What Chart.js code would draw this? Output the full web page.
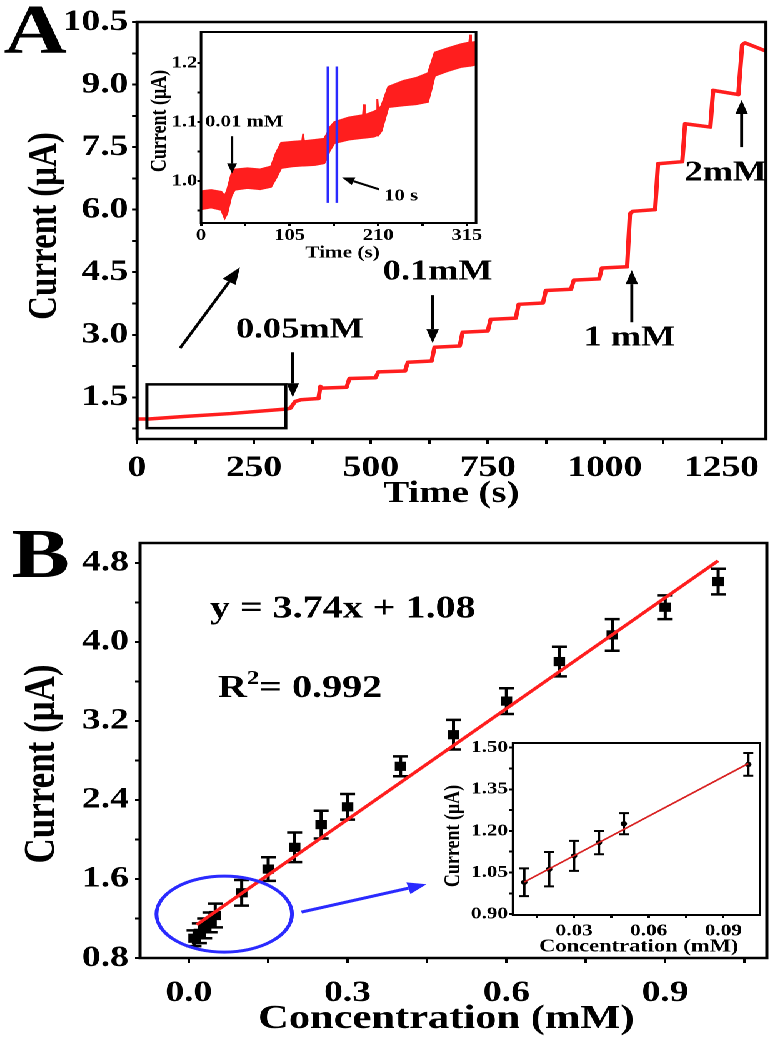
<!DOCTYPE html>
<html>
<head>
<meta charset="utf-8">
<script src="https://cdn.jsdelivr.net/npm/chart.js@4.4.1/dist/chart.umd.min.js"></script>
<style>
  html, body { margin: 0; padding: 0; background: #fff; overflow: hidden; }
  /* the original figure is stretched sideways, so draw narrow and widen */
  #stage { position: relative; width: 620px; height: 1045px; transform: scaleX(1.25); transform-origin: 0 0; }
  #stage canvas { position: absolute; left: 0; }
</style>
</head>
<body>
<div id="stage">
  <canvas id="mainA" width="620" height="520" style="top:0"></canvas>
  <canvas id="insetA" width="620" height="520" style="top:0"></canvas>
  <canvas id="mainB" width="620" height="525" style="top:520px"></canvas>
  <canvas id="insetB" width="620" height="525" style="top:520px"></canvas>
</div>
<script>
// A: current vs time, whole run
var aTime = [0, 25, 100, 200, 320, 328, 338, 350, 388, 392, 396, 448, 454, 510, 516, 573, 579, 630, 636, 690, 696, 750, 756, 810, 816, 868, 874, 928, 934, 988, 994, 1048, 1054, 1060, 1108, 1114, 1166, 1172, 1226, 1232, 1286, 1294, 1300, 1350];
var aCurrent = [0.98, 0.98, 1.04, 1.11, 1.22, 1.24, 1.40, 1.44, 1.47, 1.76, 1.72, 1.74, 1.95, 1.97, 2.11, 2.13, 2.34, 2.37, 2.70, 2.73, 3.06, 3.09, 3.37, 3.40, 3.73, 3.76, 4.06, 4.09, 4.31, 4.34, 4.60, 4.63, 5.90, 5.96, 6.00, 7.10, 7.15, 8.06, 7.98, 8.86, 8.76, 9.95, 10.00, 9.78];
var aTimeTicks = [0, 250, 500, 750, 1000, 1250];
var aCurrentTicks = [1.5, 3.0, 4.5, 6.0, 7.5, 9.0, 10.5];

// A inset: first 0.01 mM additions (noisy band, upper and lower edge)
var insetTime = [0, 12, 24, 28, 31, 36, 40, 55, 70, 83, 89, 95, 110, 120, 121, 122, 135, 146, 150, 151, 152, 158, 175, 192, 193, 194, 205, 208, 209, 210, 214, 222, 240, 255, 269, 273, 277, 292, 308, 318, 319, 320, 326];
var insetUpper = [0.983, 0.985, 0.982, 0.975, 0.985, 1.012, 1.02, 1.022, 1.02, 1.025, 1.048, 1.065, 1.067, 1.068, 1.08, 1.068, 1.07, 1.072, 1.082, 1.085, 1.09, 1.1, 1.108, 1.112, 1.13, 1.112, 1.118, 1.12, 1.139, 1.12, 1.128, 1.16, 1.17, 1.175, 1.183, 1.2, 1.218, 1.225, 1.232, 1.235, 1.248, 1.235, 1.236];
var insetLower = [0.952, 0.955, 0.951, 0.937, 0.945, 0.975, 0.985, 0.988, 0.986, 0.99, 1.005, 1.022, 1.025, 1.026, 1.026, 1.026, 1.027, 1.03, 1.04, 1.045, 1.05, 1.064, 1.07, 1.073, 1.073, 1.073, 1.075, 1.077, 1.077, 1.077, 1.085, 1.125, 1.128, 1.13, 1.134, 1.155, 1.178, 1.186, 1.193, 1.195, 1.195, 1.195, 1.197];
var insetTimeTicks = [0, 105, 210, 315];
var insetCurrentTicks = [1.0, 1.1, 1.2];

// B: calibration
var bConc = [0.01, 0.02, 0.03, 0.04, 0.05, 0.1, 0.15, 0.2, 0.25, 0.3, 0.4, 0.5, 0.6, 0.7, 0.8, 0.9, 1.0];
var bCurrent = [1.0, 1.05, 1.1, 1.16, 1.23, 1.46, 1.70, 1.92, 2.15, 2.33, 2.74, 3.06, 3.40, 3.80, 4.07, 4.35, 4.61];
var bError = [0.08, 0.1, 0.1, 0.1, 0.12, 0.13, 0.12, 0.15, 0.14, 0.13, 0.1, 0.15, 0.13, 0.15, 0.16, 0.12, 0.13];
var bFitConc = [0.015, 1.0];
var bFitCurrent = [1.136, 4.82];
var bConcTicks = [0.0, 0.3, 0.6, 0.9];
var bCurrentTicks = [0.8, 1.6, 2.4, 3.2, 4.0, 4.8];

// B inset: low range
var smallConc = [0.01, 0.02, 0.03, 0.04, 0.05, 0.1];
var smallCurrent = [1.015, 1.062, 1.11, 1.158, 1.226, 1.44];
var smallError = [0.05, 0.062, 0.054, 0.042, 0.038, 0.041];
var smallFitConc = [0.01, 0.1];
var smallFitCurrent = [1.016, 1.443];
var smallConcTicks = [0.03, 0.06, 0.09];
var smallCurrentTicks = [0.90, 1.05, 1.20, 1.35, 1.50];

var FONT = '"Liberation Serif", "Times New Roman", Times, serif';
var RED = "#ff1e1e";
var BLUE = "#2a2aff";
var W = 620;

function pairs(xs, ys) {
  return xs.map(function (x, i) { return { x: x, y: ys[i] }; });
}

function minorTicks(majors, min, max) {
  var step = majors[1] - majors[0];
  var eps = (max - min) * 0.02;
  var out = [];
  for (var v = majors[0] - step / 2; v < max; v += step) {
    if (v > min + eps && v < max - eps) out.push(v);
  }
  return out;
}

function axis(position, min, max, majors, digits, size, pad, tickLen) {
  var all = majors.concat(minorTicks(majors, min, max)).sort(function (a, b) { return a - b; });
  return {
    type: "linear",
    position: position,
    min: min,
    max: max,
    afterBuildTicks: function (s) {
      s.ticks = all.map(function (v) { return { value: v }; });
    },
    border: { display: false },
    grid: { drawOnChartArea: false, drawTicks: true, tickLength: tickLen, tickWidth: 2, tickColor: "#000", color: "#000" },
    ticks: {
      autoSkip: false,
      maxRotation: 0,
      padding: pad,
      color: "#000",
      font: { family: FONT, size: size, weight: "bold" },
      callback: function (v) {
        for (var i = 0; i < majors.length; i++) {
          if (Math.abs(majors[i] - v) < 1e-9) return v.toFixed(digits);
        }
        return "";
      },
    },
  };
}

function label(ctx, str, x, y, size, align) {
  ctx.font = "bold " + size + "px " + FONT;
  ctx.fillStyle = "#000";
  ctx.textAlign = align || "center";
  ctx.textBaseline = "middle";
  ctx.fillText(str, x, y);
}

function vlabel(ctx, str, x, y, size) {
  ctx.save();
  ctx.translate(x, y);
  ctx.rotate(-Math.PI / 2);
  label(ctx, str, 0, 0, size);
  ctx.restore();
}

function arrow(ctx, x1, y1, x2, y2, color, lw, head, halfW) {
  var ang = Math.atan2(y2 - y1, x2 - x1);
  var bx = x2 - head * Math.cos(ang);
  var by = y2 - head * Math.sin(ang);
  ctx.save();
  ctx.strokeStyle = color;
  ctx.fillStyle = color;
  ctx.lineWidth = lw;
  ctx.beginPath();
  ctx.moveTo(x1, y1);
  ctx.lineTo(bx, by);
  ctx.stroke();
  ctx.beginPath();
  ctx.moveTo(x2, y2);
  ctx.lineTo(bx + halfW * Math.sin(ang), by - halfW * Math.cos(ang));
  ctx.lineTo(bx - halfW * Math.sin(ang), by + halfW * Math.cos(ang));
  ctx.closePath();
  ctx.fill();
  ctx.restore();
}

function decor(draw, white, frameWidth) {
  return {
    id: "decor",
    beforeDraw: function (chart) {
      if (!white) return;
      var a = chart.chartArea, ctx = chart.ctx;
      ctx.save();
      ctx.fillStyle = "#fff";
      ctx.fillRect(a.left, a.top, a.right - a.left, a.bottom - a.top);
      ctx.restore();
    },
    beforeDatasetsDraw: function (chart) {
      var ctx = chart.ctx, xs = chart.scales.x, ys = chart.scales.y;
      chart.data.datasets.forEach(function (ds) {
        if (!ds.errors) return;
        ctx.save();
        ctx.strokeStyle = "#000";
        ctx.lineWidth = ds.errorWidth;
        var c = ds.capHalf;
        ds.data.forEach(function (p, j) {
          var x = xs.getPixelForValue(p.x);
          var y1 = ys.getPixelForValue(p.y - ds.errors[j]);
          var y2 = ys.getPixelForValue(p.y + ds.errors[j]);
          ctx.beginPath();
          ctx.moveTo(x, y1); ctx.lineTo(x, y2);
          ctx.moveTo(x - c, y1); ctx.lineTo(x + c, y1);
          ctx.moveTo(x - c, y2); ctx.lineTo(x + c, y2);
          ctx.stroke();
        });
        ctx.restore();
      });
    },
    afterDraw: function (chart) {
      var ctx = chart.ctx, a = chart.chartArea;
      var P = function (x, y) {
        return [chart.scales.x.getPixelForValue(x), chart.scales.y.getPixelForValue(y)];
      };
      ctx.save();
      ctx.strokeStyle = "#000";
      ctx.lineWidth = frameWidth;
      ctx.strokeRect(a.left, a.top, a.right - a.left, a.bottom - a.top);
      draw(ctx, chart, P);
      ctx.restore();
    },
  };
}

function makeChart(id, box, x, y, datasets, draw, white, frameWidth) {
  var canvas = document.getElementById(id);
  var H = canvas.height;
  var XH = 60; // tall enough that the tick labels are not clipped
  x.afterFit = function (s) { s.height = XH; };
  y.afterFit = function (s) { s.width = box.left; };
  return new Chart(canvas, {
    type: "scatter",
    data: { datasets: datasets },
    options: {
      responsive: false,
      animation: false,
      devicePixelRatio: 2,
      events: [],
      layout: { padding: { left: 0, top: box.top, right: W - box.right, bottom: H - box.bottom - XH } },
      plugins: { legend: { display: false }, tooltip: { enabled: false } },
      scales: { x: x, y: y },
    },
    plugins: [decor(draw, white, frameWidth)],
  });
}

// ---- panel A ----
makeChart(
  "mainA",
  { left: 109.6, right: 612.8, top: 22, bottom: 439 },
  axis("bottom", 0, 1345, aTimeTicks, 0, 30, 6, 5),
  axis("left", 0.5, 10.5, aCurrentTicks, 1, 30, 3, 4),
  [
    {
      data: pairs(aTime, aCurrent),
      showLine: true,
      borderColor: RED,
      borderWidth: 3.5,
      borderJoinStyle: "round",
      pointRadius: 0,
    },
  ],
  function (ctx, chart, P) {
    var l = P(21, 1.81), r = P(318, 0.76);
    ctx.lineWidth = 2.5;
    ctx.strokeStyle = "#000";
    ctx.strokeRect(l[0], l[1], r[0] - l[0], r[1] - l[1]);

    var s, e;
    s = P(92, 2.68); e = P(220, 4.62);
    arrow(ctx, s[0], s[1], e[0], e[1], "#000", 2.5, 17, 6);
    s = P(333, 2.58); e = P(333, 1.5);
    arrow(ctx, s[0], s[1], e[0], e[1], "#000", 2.4, 14, 5);
    s = P(632, 3.95); e = P(632, 2.8);
    arrow(ctx, s[0], s[1], e[0], e[1], "#000", 2.4, 14, 5);
    s = P(1058, 3.3); e = P(1058, 4.55);
    arrow(ctx, s[0], s[1], e[0], e[1], "#000", 2.4, 14, 5);
    s = P(1293, 7.5); e = P(1293, 8.63);
    arrow(ctx, s[0], s[1], e[0], e[1], "#000", 2.4, 14, 5);

    var t;
    t = P(348, 3.11); label(ctx, "0.05mM", t[0], t[1], 29);
    t = P(643, 4.5); label(ctx, "0.1mM", t[0], t[1], 29);
    t = P(1053, 2.92); label(ctx, "1 mM", t[0], t[1], 29);
    t = P(1259, 6.88); label(ctx, "2mM", t[0], t[1], 29);

    ctx.font = "bold 70px " + FONT;
    ctx.textAlign = "left";
    ctx.textBaseline = "alphabetic";
    ctx.fillStyle = "#000";
    ctx.fillText("A", 3, 53);

    vlabel(ctx, "Current (\u03bcA)", 36, 226, 33);
    label(ctx, "Time (s)", 361, 494, 31);
  },
  false,
  2.5
);

makeChart(
  "insetA",
  { left: 160.8, right: 380.8, top: 32, bottom: 223 },
  axis("bottom", 0, 326, insetTimeTicks, 0, 16.5, 0, 3),
  axis("left", 0.929, 1.2525, insetCurrentTicks, 1, 16.5, 0, 3),
  [
    {
      data: pairs(insetTime, insetUpper),
      showLine: true,
      fill: "+1",
      backgroundColor: RED,
      borderColor: RED,
      borderWidth: 1.5,
      pointRadius: 0,
    },
    {
      data: pairs(insetTime, insetLower),
      showLine: true,
      borderColor: RED,
      borderWidth: 1.5,
      pointRadius: 0,
    },
  ],
  function (ctx, chart, P) {
    ctx.strokeStyle = BLUE;
    ctx.lineWidth = 2.2;
    [150.5, 161].forEach(function (tt) {
      var a = P(tt, 1.194), b = P(tt, 0.963);
      ctx.beginPath();
      ctx.moveTo(a[0], a[1]);
      ctx.lineTo(b[0], b[1]);
      ctx.stroke();
    });
    var s, e, t;
    s = P(36.7, 1.076); e = P(36.7, 1.013);
    arrow(ctx, s[0], s[1], e[0], e[1], "#000", 2, 10, 4);
    s = P(211, 0.986); e = P(167, 1.006);
    arrow(ctx, s[0], s[1], e[0], e[1], "#000", 2, 10, 4);
    t = P(5, 1.1); label(ctx, "0.01 mM", t[0], t[1], 16.5, "left");
    t = P(217, 0.974); label(ctx, "10 s", t[0], t[1], 16.5, "left");

    vlabel(ctx, "Current (\u03bcA)", 128, 121, 18);
    label(ctx, "Time (s)", 274, 253, 17);
  },
  true,
  2
);

// ---- panel B ----
makeChart(
  "mainB",
  { left: 112, right: 614.4, top: 23, bottom: 438 },
  axis("bottom", -0.092, 1.092, bConcTicks, 1, 30, 12, 5),
  axis("left", 0.8, 5.0, bCurrentTicks, 1, 30, 5, 4),
  [
    {
      data: pairs(bFitConc, bFitCurrent),
      showLine: true,
      borderColor: RED,
      borderWidth: 3,
      pointRadius: 0,
    },
    {
      data: pairs(bConc, bCurrent),
      pointStyle: "rect",
      pointRadius: 6.5,
      backgroundColor: "#000",
      borderColor: "#000",
      borderWidth: 0,
      errors: bError,
      errorWidth: 2.5,
      capHalf: 6,
    },
  ],
  function (ctx, chart, P) {
    var c = P(0.067, 1.244), ex = P(0.067 + 0.128, 1.244 + 0.384);
    ctx.strokeStyle = BLUE;
    ctx.lineWidth = 3;
    ctx.beginPath();
    ctx.ellipse(c[0], c[1], Math.abs(ex[0] - c[0]), Math.abs(ex[1] - c[1]), 0, 0, Math.PI * 2);
    ctx.stroke();
    var s = P(0.213, 1.265), e = P(0.449, 1.547);
    arrow(ctx, s[0], s[1], e[0], e[1], BLUE, 3, 15, 6);

    var t = P(0.04, 4.33);
    label(ctx, "y = 3.74x + 1.08", t[0], t[1], 32, "left");

    t = P(0.055, 3.44);
    var x = t[0], y = t[1];
    ctx.fillStyle = "#000";
    ctx.textAlign = "left";
    ctx.textBaseline = "alphabetic";
    ctx.font = "bold 32px " + FONT;
    ctx.fillText("R", x, y);
    x += ctx.measureText("R").width;
    ctx.font = "bold 20px " + FONT;
    ctx.fillText("2", x, y - 13);
    x += ctx.measureText("2").width;
    ctx.font = "bold 32px " + FONT;
    ctx.fillText("= 0.992", x, y);

    ctx.font = "bold 70px " + FONT;
    ctx.fillText("B", 9, 57);

    vlabel(ctx, "Current (\u03bcA)", 34, 244, 35);
    label(ctx, "Concentration (mM)", 357, 499, 34);
  },
  false,
  2.5
);

makeChart(
  "insetB",
  { left: 410.4, right: 608, top: 223, bottom: 395 },
  axis("bottom", 0.0055, 0.1047, smallConcTicks, 2, 17, 3, 3),
  axis("left", 0.897, 1.517, smallCurrentTicks, 2, 17, 1, 3),
  [
    {
      data: pairs(smallFitConc, smallFitCurrent),
      showLine: true,
      borderColor: "#d82020",
      borderWidth: 1.6,
      pointRadius: 0,
    },
    {
      data: pairs(smallConc, smallCurrent),
      pointRadius: 2.6,
      backgroundColor: "#000",
      borderColor: "#000",
      borderWidth: 0,
      errors: smallError,
      errorWidth: 2,
      capHalf: 4,
    },
  ],
  function (ctx) {
    vlabel(ctx, "Current (\u03bcA)", 363, 316, 18);
    label(ctx, "Concentration (mM)", 511, 427, 18);
  },
  true,
  2
);
</script>
</body>
</html>
